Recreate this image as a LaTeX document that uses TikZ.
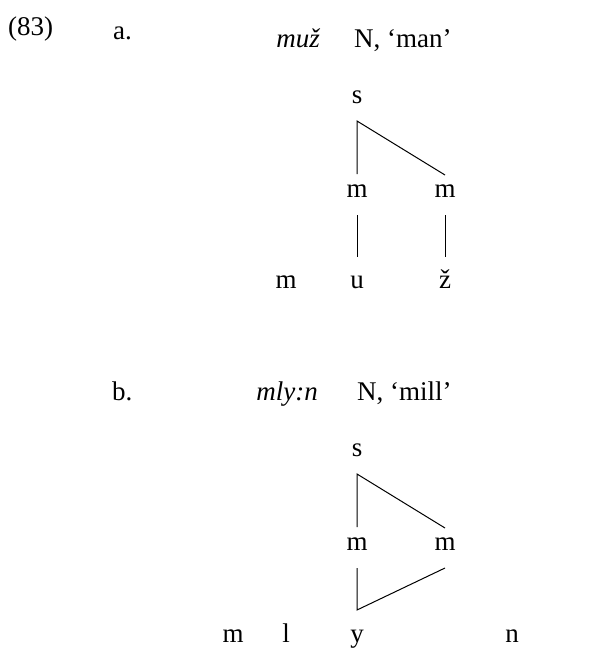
\documentclass[tikz,border=0pt]{standalone}
\usepackage{fontspec}
\setmainfont{Liberation Serif}
\begin{document}
\begin{tikzpicture}[x=1pt,y=-1pt,
  txt/.style={inner sep=0pt,font=\fontsize{27}{32}\selectfont},
  seg/.style={line width=1pt}]
\useasboundingbox (0,0) rectangle (590,648);
% ---- (83) a.
\node[txt,anchor=base west] (num) at (8,35) {(83)};
\node[txt,anchor=base west] (la) at (113,39) {a.};
\node[txt,anchor=base east] (wa) at (320,47) {\itshape muž};
\node[txt,anchor=base west] (ga) at (354,47) {N, ‘man’};
\node[txt,anchor=base] (sA) at (357,103) {s};
\node[txt,anchor=base] (mA1) at (357,197) {m};
\node[txt,anchor=base] (mA2) at (445,197) {m};
\node[txt,anchor=base] (bA1) at (286,288) {m};
\node[txt,anchor=base] (bA2) at (357,288) {u};
\node[txt,anchor=base] (bA3) at (445,288) {ž};
\coordinate (sAt) at (357,121);
\coordinate (mA1t) at (357,174);
\coordinate (mA2t) at (445,175);
\coordinate (mA1b) at (357,215);
\coordinate (mA2b) at (445,215);
\coordinate (bA2t) at (357,257);
\coordinate (bA3t) at (445,257);
\draw[seg] (mA1t) -- (sAt) -- (mA2t);
\draw[seg] (mA1b) -- (bA2t);
\draw[seg] (mA2b) -- (bA3t);
% ---- b.
\node[txt,anchor=base west] (lb) at (112,400) {b.};
\node[txt,anchor=base east] (wb) at (318,400) {\itshape mly:n};
\node[txt,anchor=base west] (gb) at (357,400) {N, ‘mill’};
\node[txt,anchor=base] (sB) at (357,456) {s};
\node[txt,anchor=base] (mB1) at (357,550) {m};
\node[txt,anchor=base] (mB2) at (445,550) {m};
\node[txt,anchor=base] (bB1) at (233,642) {m};
\node[txt,anchor=base] (bB2) at (286,642) {l};
\node[txt,anchor=base] (bB3) at (357,642) {y};
\node[txt,anchor=base] (bB4) at (512,642) {n};
\coordinate (sBt) at (357,474);
\coordinate (mB1t) at (357,527);
\coordinate (mB2t) at (445,528);
\coordinate (mB1b) at (357,568);
\coordinate (mB2b) at (445,568);
\coordinate (bB3t) at (357,610);
\draw[seg] (mB1t) -- (sBt) -- (mB2t);
\draw[seg] (mB1b) -- (bB3t) -- (mB2b);
\end{tikzpicture}
\end{document}
